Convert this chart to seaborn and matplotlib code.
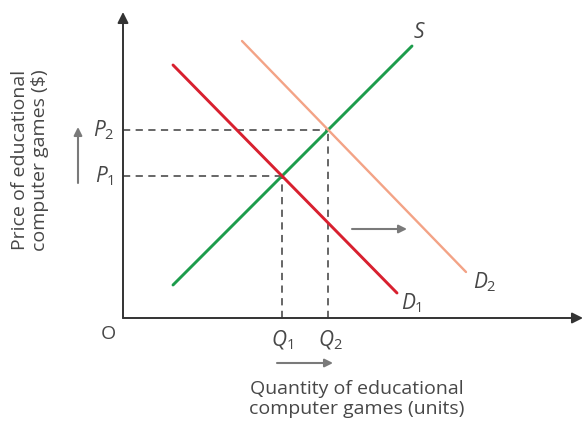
import numpy as np
import pandas as pd
import matplotlib
matplotlib.use("Agg")
import matplotlib.pyplot as plt
import seaborn as sns

# Curve end points (quantity, price) in diagram units
supply_q = [50, 289]
supply_p = [33, 272]
demand1_q = [50, 274]
demand1_p = [253, 25]
demand2_q = [119, 343]
demand2_p = [277, 46]

curve_names = ["S", "D1", "D2"]
curve_colors = ["#1d9c4c", "#d8202f", "#f3a386"]
curve_widths = [2.1, 2.1, 1.7]

x_max = 461
y_max = 318

sns.set_theme(style="white")
plt.rcParams["font.family"] = ["Open Sans", "DejaVu Sans"]
plt.rcParams["mathtext.fontset"] = "custom"
plt.rcParams["mathtext.rm"] = "Open Sans"
plt.rcParams["mathtext.it"] = "Open Sans:italic"

W, H = 584, 430
fig = plt.figure(figsize=(W / 100, H / 100), dpi=100)
ax = fig.add_axes([123 / W, 112 / H, x_max / W, y_max / H])
ax.set_xlim(0, x_max)
ax.set_ylim(0, y_max)
for sp in ax.spines.values():
    sp.set_visible(False)
ax.set_xticks([])
ax.set_yticks([])

def line_coef(q, p):
    m = (p[1] - p[0]) / (q[1] - q[0])
    return m, p[0] - m * q[0]

def intersect(qa, pa, qb, pb):
    m1, b1 = line_coef(qa, pa)
    m2, b2 = line_coef(qb, pb)
    x = (b2 - b1) / (m1 - m2)
    return x, m1 * x + b1

q1, p1 = intersect(supply_q, supply_p, demand1_q, demand1_p)
q2, p2 = intersect(supply_q, supply_p, demand2_q, demand2_p)

text_col = "#474747"
dash_col = "#5a5a5a"
arrow_col = "#7a7a7a"

# Equilibrium guides
for q, p in [(q1, p1), (q2, p2)]:
    ax.plot([0, q], [p, p], ls=(0, (4, 3)), color=dash_col, lw=1.3, zorder=1)
    ax.plot([q, q], [0, p], ls=(0, (4, 3)), color=dash_col, lw=1.3, zorder=1)

curves = [(supply_q, supply_p), (demand1_q, demand1_p), (demand2_q, demand2_p)]
for name, (qs, ps), col, lw in zip(curve_names, curves, curve_colors, curve_widths):
    df = pd.DataFrame({"q": qs, "p": ps})
    sns.lineplot(data=df, x="q", y="p", color=col, lw=lw, ax=ax, zorder=3,
                 estimator=None, sort=False)
ax.set_xlabel("")
ax.set_ylabel("")

# Axes with arrow heads
ax.annotate("", xy=(0, 306), xytext=(0, 0), xycoords="data",
            arrowprops=dict(arrowstyle="-|>", color="#333333", lw=1.4, mutation_scale=16,
                            shrinkA=0, shrinkB=0), annotation_clip=False)
ax.annotate("", xy=(460, 0), xytext=(0, 0), xycoords="data",
            arrowprops=dict(arrowstyle="-|>", color="#333333", lw=1.4, mutation_scale=16,
                            shrinkA=0, shrinkB=0), annotation_clip=False)

fs = 14
lfs = 15
# Curve labels
ax.text(296, 286, r"$\mathit{S}$", fontsize=lfs, color=text_col, ha="center", va="center")
ax.text(289, 15, r"$\mathit{D}_1$", fontsize=lfs, color=text_col, ha="center", va="center")
ax.text(362, 36, r"$\mathit{D}_2$", fontsize=lfs, color=text_col, ha="center", va="center")

# Price and quantity labels
ax.text(-9, p2, r"$\mathit{P}_2$", fontsize=lfs, color=text_col, ha="right", va="center")
ax.text(-9, p1, r"$\mathit{P}_1$", fontsize=lfs, color=text_col, ha="right", va="center")
ax.text(q1, -22, r"$\mathit{Q}_1$", fontsize=lfs, color=text_col, ha="center", va="center")
ax.text(q2 + 2, -22, r"$\mathit{Q}_2$", fontsize=lfs, color=text_col, ha="center", va="center")
ax.text(-15, -16, "O", fontsize=fs, color=text_col, ha="center", va="center")

# Shift arrows
arr = dict(arrowstyle="-|>", color=arrow_col, lw=1.5, mutation_scale=12, shrinkA=0, shrinkB=0)
ax.annotate("", xy=(-45, 191), xytext=(-45, 135), arrowprops=arr, annotation_clip=False)
ax.annotate("", xy=(210, -45), xytext=(154, -45), arrowprops=arr, annotation_clip=False)
ax.annotate("", xy=(284, 89), xytext=(229, 89), arrowprops=arr, annotation_clip=False)

# Axis titles
ax.text(234, -81, "Quantity of educational\ncomputer games (units)", fontsize=fs,
        color=text_col, ha="center", va="center", linespacing=1.2)
ax.text(-93, 158, "Price of educational\ncomputer games ($)", fontsize=fs,
        color=text_col, ha="center", va="center", rotation=90, linespacing=1.2)

fig.savefig("out.png", dpi=100)
